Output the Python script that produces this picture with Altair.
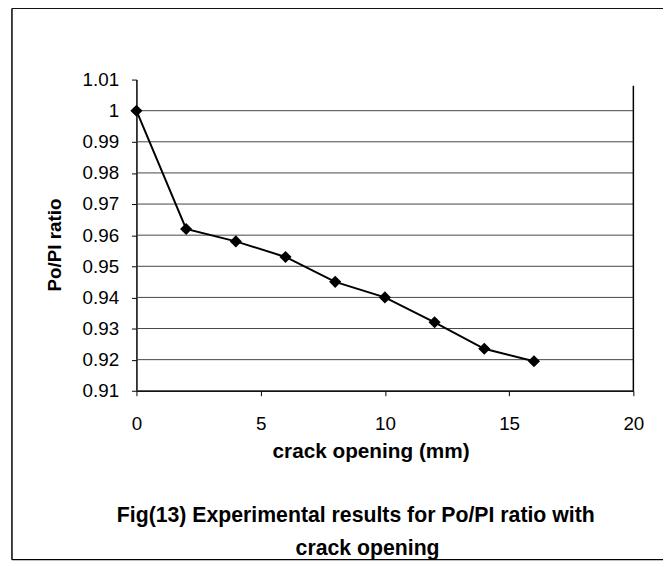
import altair as alt
import pandas as pd

crack_opening = [0, 2, 4, 6, 8, 10, 12, 14, 16]
po_pi_ratio = [1.000, 0.962, 0.958, 0.953, 0.945, 0.940, 0.932, 0.9235, 0.9195]
y_ticks = [0.91, 0.92, 0.93, 0.94, 0.95, 0.96, 0.97, 0.98, 0.99, 1.00, 1.01]
grid_vals = [0.91, 0.92, 0.93, 0.94, 0.95, 0.96, 0.97, 0.98, 0.99, 1.00]
x_ticks = [0, 5, 10, 15, 20]
caption_lines = ["Fig(13) Experimental results for Po/PI ratio with", "crack opening"]

df = pd.DataFrame({"x": crack_opening, "y": po_pi_ratio})
grid_df = pd.DataFrame({"g": grid_vals})
border_df = pd.DataFrame({"x": [20], "y": [0.91], "y2": [1.008]})
one = pd.DataFrame({"a": [0]})

FONT = "Liberation Sans"

xs = alt.Scale(domain=[0, 20], nice=False, zero=False)
ys = alt.Scale(domain=[0.91, 1.01], nice=False, zero=False)

grid = alt.Chart(grid_df).mark_rule(color="#444", strokeWidth=1).encode(
    y=alt.Y("g:Q", scale=ys)
)

right_border = alt.Chart(border_df).mark_rule(color="black", strokeWidth=1.5).encode(
    x=alt.X("x:Q", scale=xs), y=alt.Y("y:Q", scale=ys), y2="y2:Q"
)

line = alt.Chart(df).mark_line(color="black", strokeWidth=2).encode(
    x=alt.X("x:Q", scale=xs,
            axis=alt.Axis(title="crack opening (mm)", values=x_ticks, grid=False,
                          tickSize=5, labelPadding=19, titleFontSize=21,
                          titleX=237, titleY=51, titleBaseline="top",
                          labelOverlap=False, labelFlush=False)),
    y=alt.Y("y:Q", scale=ys,
            axis=alt.Axis(title="Po/PI ratio", values=y_ticks, tickCount=11, grid=False,
                          format="~g", tickSize=5, labelPadding=13, titlePadding=18,
                          titleFontSize=19, titleY=167,
                          labelOverlap=False, labelFlush=False)),
)

points = alt.Chart(df).mark_point(shape="diamond", filled=True, color="black",
                                  size=150, opacity=1).encode(
    x=alt.X("x:Q", scale=xs), y=alt.Y("y:Q", scale=ys)
)

frame_left = alt.Chart(one).mark_rule(color="black", strokeWidth=1.5).encode(
    x=alt.value(-126), y=alt.value(-72), y2=alt.value(486)
)
frame_top = alt.Chart(one).mark_rule(color="black", strokeWidth=1).encode(
    x=alt.value(-126), x2=alt.value(533), y=alt.value(-72)
)
frame_bottom = alt.Chart(one).mark_rule(color="black", strokeWidth=1.2).encode(
    x=alt.value(-126), x2=alt.value(533), y=alt.value(486)
)

cap1 = alt.Chart(one).mark_text(font=FONT, fontSize=21.5, fontWeight="bold", color="black",
                                align="center", baseline="alphabetic").encode(
    x=alt.value(222), y=alt.value(448), text=alt.value(caption_lines[0])
)
cap2 = alt.Chart(one).mark_text(font=FONT, fontSize=21.5, fontWeight="bold", color="black",
                                align="center", baseline="alphabetic").encode(
    x=alt.value(234), y=alt.value(481), text=alt.value(caption_lines[1])
)

chart = alt.layer(grid, right_border, line, points, frame_left, frame_top, frame_bottom,
                  cap1, cap2).properties(
    width=503,
    height=315,
    background="white",
    autosize=alt.AutoSizeParams(type="none"),
    padding={"left": 130, "top": 69, "right": 30, "bottom": 180},
).configure_view(stroke=None).configure_axis(
    labelFont=FONT, titleFont=FONT, labelFontSize=19,
    labelColor="black", titleColor="black", domainColor="black", tickColor="black",
    domainWidth=1.5, labelFontWeight="normal", titleFontWeight="bold",
)

chart.save("out.html", embed_options={"renderer": "svg", "actions": False})
